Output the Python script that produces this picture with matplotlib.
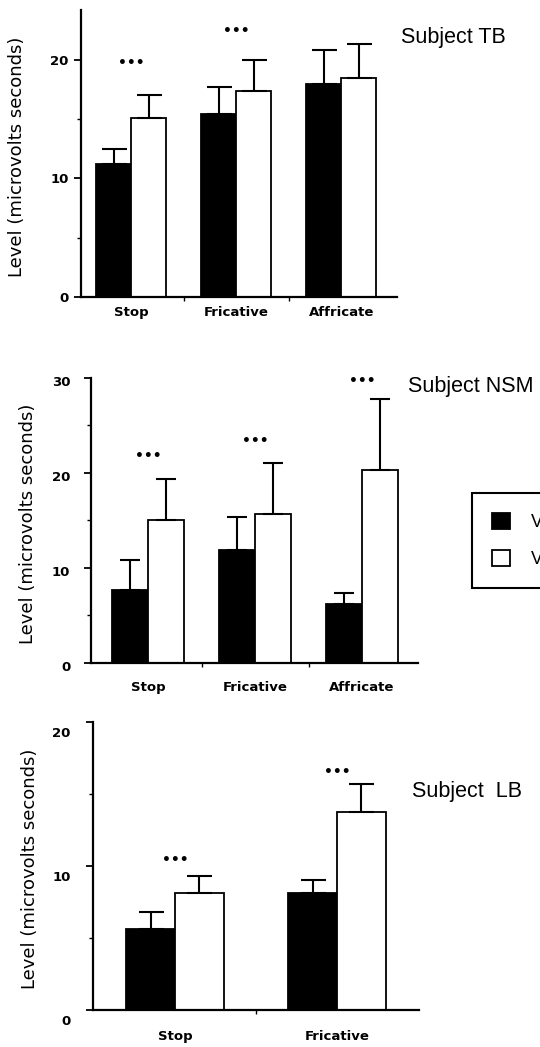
import numpy as np
import matplotlib.pyplot as plt
from matplotlib.transforms import ScaledTranslation

# categories
cats3 = ['Stop', 'Fricative', 'Affricate']
cats2 = ['Stop', 'Fricative']

# Subject TB (means and upper error bar tops, microvolt seconds)
tb_voiced = [11.2, 15.4, 18.0]
tb_voiced_top = [12.5, 17.7, 20.8]
tb_voiceless = [15.1, 17.4, 18.5]
tb_voiceless_top = [17.0, 20.0, 21.3]
tb_stars = [19.7, 22.4, None]

# Subject NSM
nsm_voiced = [7.7, 11.9, 6.2]
nsm_voiced_top = [10.8, 15.4, 7.4]
nsm_voiceless = [15.1, 15.7, 20.3]
nsm_voiceless_top = [19.4, 21.1, 27.8]
nsm_stars = [21.8, 23.4, 29.7]

# Subject LB
lb_voiced = [5.6, 8.1]
lb_voiced_top = [6.8, 9.0]
lb_voiceless = [8.1, 13.75]
lb_voiceless_top = [9.3, 15.7]
lb_stars = [10.4, 16.5]

# legend runs off the right edge in the original, only the "V" shows
legend_labels = ['Voiced', 'Voiceless']

plt.rcParams['font.family'] = ['DejaVu Sans']

fig = plt.figure(figsize=(5.4, 10.47), dpi=100)

# axes rect, ylim, xlim, bar width, capsize, label pads, ytick label shift(px)
panels = [
    dict(rect=[0.150, 0.7163, 0.585, 0.2741], ylim=24.2, xlim=(-0.476, 2.53),
         w=0.333, cap=9.0, pad=6.5, ypad=4, shift=0, lx=-0.174,
         cats=cats3, v=tb_voiced, vt=tb_voiced_top, u=tb_voiceless, ut=tb_voiceless_top,
         stars=tb_stars, ticks=[0, 10, 20], title='Subject TB', tx=401, ty=38),
    dict(rect=[0.1685, 0.3668, 0.6056, 0.2722], ylim=30, xlim=(-0.533, 2.523),
         w=0.336, cap=7.5, pad=13, ypad=10, shift=3, lx=-0.165,
         cats=cats3, v=nsm_voiced, vt=nsm_voiced_top, u=nsm_voiceless, ut=nsm_voiceless_top,
         stars=nsm_stars, ticks=[0, 10, 20, 30], title='Subject NSM', tx=408, ty=387),
    dict(rect=[0.1722, 0.0353, 0.6037, 0.2751], ylim=20, xlim=(-0.506, 1.506),
         w=0.30, cap=9.0, pad=14.5, ypad=11, shift=10, lx=-0.166,
         cats=cats2, v=lb_voiced, vt=lb_voiced_top, u=lb_voiceless, ut=lb_voiceless_top,
         stars=lb_stars, ticks=[0, 10, 20], title='Subject  LB', tx=412, ty=792),
]

handles = None
for p in panels:
    ax = fig.add_axes(p['rect'])
    x = np.arange(len(p['cats']))
    w = p['w']
    v = np.array(p['v'])
    u = np.array(p['u'])
    ev = np.array(p['vt']) - v
    eu = np.array(p['ut']) - u
    ekw = dict(elinewidth=1.5, capthick=1.5, ecolor='black')
    b1 = ax.bar(x - w / 2, v, w, color='black', edgecolor='black', linewidth=1.3,
                yerr=[np.zeros_like(ev), ev], capsize=p['cap'], error_kw=ekw, zorder=2)
    b2 = ax.bar(x + w / 2, u, w, color='white', edgecolor='black', linewidth=1.3,
                yerr=[np.zeros_like(eu), eu], capsize=p['cap'], error_kw=ekw, zorder=2)
    if handles is None:
        handles = [b1, b2]
    for xi, s in zip(x, p['stars']):
        if s is not None:
            ax.text(xi, s, '\u2022\u2022\u2022', ha='center', va='center',
                    fontsize=10, fontweight='bold')

    ax.set_xlim(*p['xlim'])
    ax.set_ylim(0, p['ylim'])
    for side in ['top', 'right']:
        ax.spines[side].set_visible(False)
    for side in ['left', 'bottom']:
        ax.spines[side].set_linewidth(1.6)

    ax.set_xticks(x)
    ax.set_xticklabels(p['cats'], fontsize=9.5, fontweight='bold')
    ax.set_xticks([i + 0.5 for i in range(len(x) - 1)], minor=True)
    ax.tick_params(axis='x', which='major', length=0, pad=p['pad'])
    ax.tick_params(axis='x', which='minor', length=3, width=1)

    ax.set_yticks(p['ticks'])
    ax.set_yticks([t + 5 for t in p['ticks'][:-1]], minor=True)
    ax.set_yticklabels([str(t) for t in p['ticks']], fontsize=9.5, fontweight='bold')
    ax.tick_params(axis='y', which='major', length=5, width=1.3, pad=p['ypad'])
    ax.tick_params(axis='y', which='minor', length=3, width=1)
    if p['shift']:
        off = ScaledTranslation(0, -p['shift'] / 100, fig.dpi_scale_trans)
        for lab in ax.get_yticklabels():
            lab.set_transform(lab.get_transform() + off)

    ax.set_ylabel('Level (microvolts seconds)', fontsize=13)
    ax.yaxis.set_label_coords(p['lx'], 0.49)

    fig.text(p['tx'] / 540, 1 - p['ty'] / 1047, p['title'], fontsize=15.5,
             family='Liberation Sans', ha='left', va='center')

leg = fig.legend(handles, legend_labels, loc='upper left',
                 bbox_to_anchor=(472 / 540, 1 - 493 / 1047), borderaxespad=0,
                 prop={'family': 'Liberation Sans', 'size': 13},
                 handlelength=1.0, handleheight=1.0, handletextpad=1.15,
                 labelspacing=1.05, borderpad=1.1, fancybox=False, shadow=False,
                 framealpha=1, edgecolor='black')
leg.get_frame().set_linewidth(1.5)
for h in leg.legend_handles:
    h.set_linewidth(1.3)
    h.set_edgecolor('black')

fig.savefig('out.png', dpi=100)
